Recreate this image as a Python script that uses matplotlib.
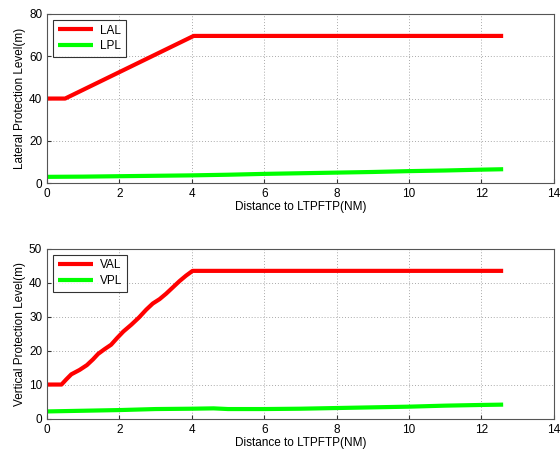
import numpy as np
import matplotlib.pyplot as plt

plt.rcParams['font.family'] = ['Liberation Sans', 'DejaVu Sans']
plt.rcParams['font.size'] = 8

# Lateral data
lal_x = [0, 0.5, 4.05, 12.6]
lal_y = [40, 40, 69.6, 69.6]
lpl_x = [0, 1, 2, 3, 4, 5, 6, 7, 8, 9, 10, 11, 12, 12.6]
lpl_y = [3.0, 3.1, 3.3, 3.5, 3.7, 4.0, 4.4, 4.7, 5.0, 5.3, 5.7, 6.0, 6.4, 6.6]

# Vertical data
val_x = [0, 0.4, 0.53, 0.67, 0.9, 1.1, 1.27, 1.41, 1.59, 1.77, 1.93, 2.11, 2.33,
         2.54, 2.74, 2.92, 3.11, 3.29, 3.48, 3.66, 3.84, 4.02, 12.6]
val_y = [10.1, 10.1, 11.6, 13.1, 14.4, 15.8, 17.5, 19.1, 20.5, 21.8, 23.7, 25.7, 27.7,
         29.8, 32.1, 33.9, 35.2, 36.8, 38.7, 40.5, 42.1, 43.5, 43.5]
vpl_x = [0, 1, 2, 3, 4, 4.6, 5, 6, 7, 8, 9, 10, 11, 12, 12.6]
vpl_y = [2.2, 2.4, 2.6, 2.9, 3.0, 3.1, 2.9, 2.9, 3.0, 3.2, 3.4, 3.6, 3.9, 4.1, 4.2]

fig = plt.figure(figsize=(5.6, 4.49), dpi=100)
ax1 = fig.add_axes([0.084, 0.592, 0.905, 0.377])
ax2 = fig.add_axes([0.084, 0.067, 0.905, 0.379])


def style(ax, ymax, ystep, ylabel, names, xs, ys):
    ax.plot(xs[0], ys[0], color='#ff0000', lw=3, label=names[0], solid_capstyle='butt')
    ax.plot(xs[1], ys[1], color='#00ff00', lw=3, label=names[1], solid_capstyle='butt')
    ax.set_xlim(0, 14)
    ax.set_ylim(0, ymax)
    ax.set_xticks(np.arange(0, 15, 2))
    ax.set_yticks(np.arange(0, ymax + 1, ystep))
    ax.grid(True, linestyle=(0, (1, 2)), color='#aaaaaa', lw=0.7)
    ax.tick_params(direction='in', length=3, colors='#333333', labelcolor='black',
                   labelsize=8.5)
    for s in ax.spines.values():
        s.set_color('#555555')
    ax.set_xlabel('Distance to LTPFTP(NM)', labelpad=1, fontsize=8.5)
    ax.set_ylabel(ylabel, labelpad=2, fontsize=8.5)
    leg = ax.legend(loc='upper left', fancybox=False, edgecolor='black',
                    handlelength=3.0, borderpad=0.4, labelspacing=0.3,
                    handletextpad=0.6, borderaxespad=0.5, fontsize=8.5)
    leg.get_frame().set_linewidth(0.8)


style(ax1, 80, 20, 'Lateral Protection Level(m)', ['LAL', 'LPL'],
      [lal_x, lpl_x], [lal_y, lpl_y])
style(ax2, 50, 10, 'Vertical Protection Level(m)', ['VAL', 'VPL'],
      [val_x, vpl_x], [val_y, vpl_y])

fig.savefig('out.png', dpi=100)
